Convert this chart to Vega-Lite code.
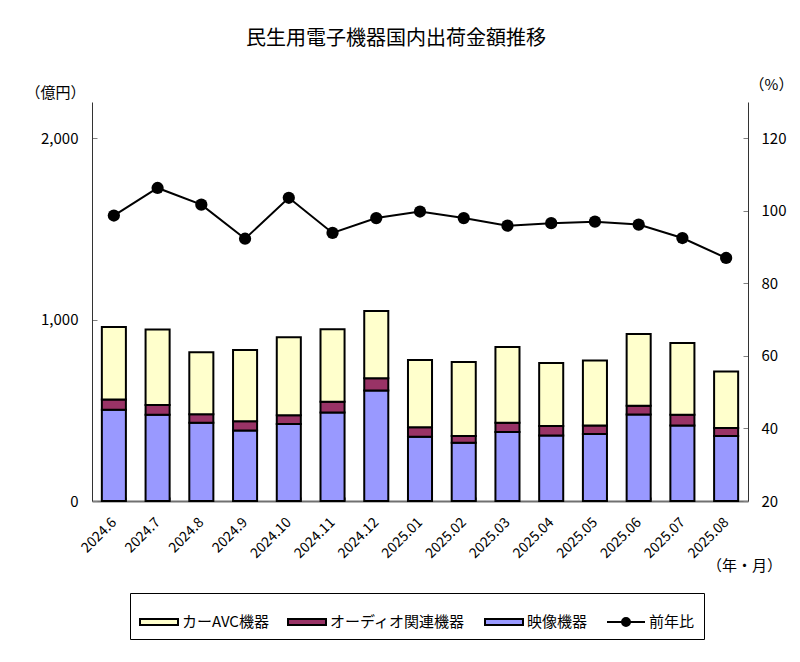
{
  "$schema": "https://vega.github.io/schema/vega-lite/v6.json",
  "autosize": {"type": "none"},
  "padding": {"left": 92, "top": 102, "right": 52, "bottom": 161},
  "width": 656,
  "height": 399,
  "title": {
    "text": "民生用電子機器国内出荷金額推移",
    "fontSize": 20,
    "fontWeight": "normal",
    "font": "Noto Sans CJK JP",
    "color": "black",
    "anchor": "middle",
    "dx": -24,
    "offset": 28
  },
  "datasets": {
    "amounts": [
      {"month": "2024.6", "series": "映像機器", "value": 503},
      {"month": "2024.6", "series": "オーディオ関連機器", "value": 57},
      {"month": "2024.6", "series": "カーAVC機器", "value": 399},
      {"month": "2024.7", "series": "映像機器", "value": 475},
      {"month": "2024.7", "series": "オーディオ関連機器", "value": 55},
      {"month": "2024.7", "series": "カーAVC機器", "value": 415},
      {"month": "2024.8", "series": "映像機器", "value": 431},
      {"month": "2024.8", "series": "オーディオ関連機器", "value": 48},
      {"month": "2024.8", "series": "カーAVC機器", "value": 341},
      {"month": "2024.9", "series": "映像機器", "value": 389},
      {"month": "2024.9", "series": "オーディオ関連機器", "value": 51},
      {"month": "2024.9", "series": "カーAVC機器", "value": 393},
      {"month": "2024.10", "series": "映像機器", "value": 424},
      {"month": "2024.10", "series": "オーディオ関連機器", "value": 49},
      {"month": "2024.10", "series": "カーAVC機器", "value": 430},
      {"month": "2024.11", "series": "映像機器", "value": 488},
      {"month": "2024.11", "series": "オーディオ関連機器", "value": 59},
      {"month": "2024.11", "series": "カーAVC機器", "value": 400},
      {"month": "2024.12", "series": "映像機器", "value": 609},
      {"month": "2024.12", "series": "オーディオ関連機器", "value": 68},
      {"month": "2024.12", "series": "カーAVC機器", "value": 370},
      {"month": "2025.01", "series": "映像機器", "value": 354},
      {"month": "2025.01", "series": "オーディオ関連機器", "value": 53},
      {"month": "2025.01", "series": "カーAVC機器", "value": 371},
      {"month": "2025.02", "series": "映像機器", "value": 321},
      {"month": "2025.02", "series": "オーディオ関連機器", "value": 38},
      {"month": "2025.02", "series": "カーAVC機器", "value": 408},
      {"month": "2025.03", "series": "映像機器", "value": 380},
      {"month": "2025.03", "series": "オーディオ関連機器", "value": 51},
      {"month": "2025.03", "series": "カーAVC機器", "value": 418},
      {"month": "2025.04", "series": "映像機器", "value": 361},
      {"month": "2025.04", "series": "オーディオ関連機器", "value": 52},
      {"month": "2025.04", "series": "カーAVC機器", "value": 348},
      {"month": "2025.05", "series": "映像機器", "value": 369},
      {"month": "2025.05", "series": "オーディオ関連機器", "value": 47},
      {"month": "2025.05", "series": "カーAVC機器", "value": 358},
      {"month": "2025.06", "series": "映像機器", "value": 477},
      {"month": "2025.06", "series": "オーディオ関連機器", "value": 48},
      {"month": "2025.06", "series": "カーAVC機器", "value": 396},
      {"month": "2025.07", "series": "映像機器", "value": 416},
      {"month": "2025.07", "series": "オーディオ関連機器", "value": 59},
      {"month": "2025.07", "series": "カーAVC機器", "value": 396},
      {"month": "2025.08", "series": "映像機器", "value": 358},
      {"month": "2025.08", "series": "オーディオ関連機器", "value": 45},
      {"month": "2025.08", "series": "カーAVC機器", "value": 311}
    ],
    "ratio": [
      {"month": "2024.6", "ratio": 98.7},
      {"month": "2024.7", "ratio": 106.3},
      {"month": "2024.8", "ratio": 101.7},
      {"month": "2024.9", "ratio": 92.3},
      {"month": "2024.10", "ratio": 103.6},
      {"month": "2024.11", "ratio": 93.9},
      {"month": "2024.12", "ratio": 98.0},
      {"month": "2025.01", "ratio": 99.8},
      {"month": "2025.02", "ratio": 98.0},
      {"month": "2025.03", "ratio": 95.9},
      {"month": "2025.04", "ratio": 96.6},
      {"month": "2025.05", "ratio": 97.0},
      {"month": "2025.06", "ratio": 96.2},
      {"month": "2025.07", "ratio": 92.5},
      {"month": "2025.08", "ratio": 87.0}
    ]
  },
  "layer": [
    {
      "data": {"name": "amounts"},
      "transform": [
        {"calculate": "indexof(['映像機器', 'オーディオ関連機器', 'カーAVC機器'], datum.series)", "as": "stackOrder"}
      ],
      "mark": {"type": "bar", "stroke": "black", "strokeWidth": 2},
      "encoding": {
        "x": {
          "field": "month",
          "type": "nominal",
          "sort": null,
          "scale": {"paddingInner": 0.45, "paddingOuter": 0.225},
          "axis": {
            "title": "（年・月）",
            "titleAngle": 0,
            "titleX": 652,
            "titleY": 64,
            "titleAlign": "center",
            "titleBaseline": "middle",
            "labelAngle": -45,
            "labelPadding": 18,
            "labelOffset": -5,
            "tickBand": "extent",
            "tickSize": -4,
            "domainColor": "#707070",
            "domainWidth": 2
          }
        },
        "y": {
          "field": "value",
          "type": "quantitative",
          "stack": "zero",
          "scale": {"domain": [0, 2200], "nice": false},
          "axis": {
            "values": [0, 1000, 2000],
            "format": ",d",
            "title": "（億円）",
            "titleAngle": 0,
            "titleX": -37,
            "titleY": -10,
            "titleAlign": "center",
            "titleBaseline": "middle",
            "tickSize": -5,
            "labelPadding": 19
          }
        },
        "color": {
          "field": "series",
          "type": "nominal",
          "scale": {
            "domain": ["カーAVC機器", "オーディオ関連機器", "映像機器", "前年比"],
            "range": ["#FFFFCC", "#993366", "#9999FF", "#000000"]
          },
          "legend": {
            "title": null,
            "orient": "none",
            "legendX": 38,
            "legendY": 491,
            "encode": {"symbols": {"update": {"stroke": {"value": "black"}, "strokeWidth": {"value": 2}}}}
          }
        },
        "order": {"field": "stackOrder"}
      }
    },
    {
      "data": {"name": "amounts"},
      "transform": [{"filter": "false"}],
      "mark": {"type": "point", "filled": true, "opacity": 1},
      "encoding": {
        "color": {"field": "series", "type": "nominal"},
        "shape": {
          "field": "series",
          "type": "nominal",
          "scale": {
            "domain": ["カーAVC機器", "オーディオ関連機器", "映像機器", "前年比"],
            "range": [
              "M-1,-0.16H1V0.16H-1Z",
              "M-1,-0.16H1V0.16H-1Z",
              "M-1,-0.16H1V0.16H-1Z",
              "M-1,0H1M-0.21,0A0.21,0.21 0 1,1 0.21,0A0.21,0.21 0 1,1 -0.21,0Z"
            ]
          },
          "legend": {
            "title": null,
            "orient": "none",
            "legendX": 38,
            "legendY": 491,
            "encode": {"symbols": {"update": {"stroke": {"value": "black"}, "strokeWidth": {"value": 2}}}}
          }
        }
      }
    },
    {
      "data": {"name": "ratio"},
      "encoding": {
        "x": {"field": "month", "type": "nominal", "sort": null},
        "y": {
          "field": "ratio",
          "type": "quantitative",
          "scale": {"domain": [20, 130], "nice": false},
          "axis": {
            "orient": "right",
            "values": [20, 40, 60, 80, 100, 120],
            "title": "（%）",
            "titleAngle": 0,
            "titleX": 23,
            "titleY": -18,
            "titleAlign": "center",
            "titleBaseline": "middle",
            "tickSize": -5,
            "labelPadding": 18
          }
        }
      },
      "layer": [
        {"mark": {"type": "line", "color": "black", "strokeWidth": 2}},
        {"mark": {"type": "point", "filled": true, "color": "black", "size": 150, "opacity": 1}}
      ]
    }
  ],
  "resolve": {"scale": {"y": "independent"}},
  "config": {
    "view": {"stroke": null},
    "font": "Noto Sans CJK JP",
    "axis": {
      "grid": false,
      "labelFont": "Noto Sans CJK JP",
      "labelFontSize": 15,
      "labelColor": "black",
      "titleFont": "Noto Sans CJK JP",
      "titleFontSize": 15,
      "titleFontWeight": "normal",
      "titleColor": "black",
      "domainColor": "#333333",
      "tickColor": "#808080"
    },
    "axisX": {"labelFontSize": 14},
    "legend": {
      "direction": "horizontal",
      "columns": 4,
      "columnPadding": 15,
      "labelOffset": 3,
      "labelFont": "Noto Sans CJK JP",
      "labelFontSize": 15,
      "labelColor": "black",
      "symbolSize": 1444,
      "symbolStrokeColor": "black",
      "symbolStrokeWidth": 2,
      "symbolOpacity": 1,
      "strokeColor": "black",
      "padding": 9
    }
  }
}
